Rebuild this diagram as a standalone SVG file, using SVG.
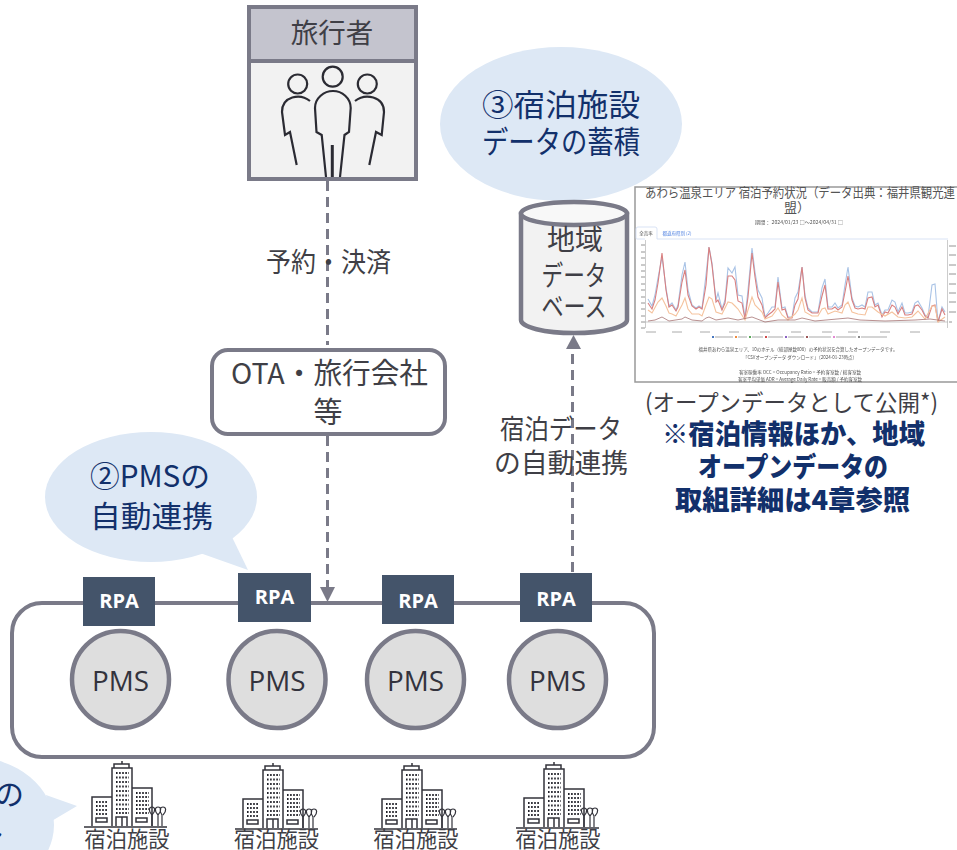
<svg xmlns="http://www.w3.org/2000/svg" width="957" height="850" viewBox="0 0 957 850">
<style>
text{font-family:"Noto Sans CJK JP","Open Sans",sans-serif;fill:#3f3f46;text-anchor:middle}
.t{font-size:29px}
.blue{fill:#12306b}
.bub{fill:#dde8f5}
.pms{fill:#dedede;stroke:#7a7a88;stroke-width:4.5}
.pt{font-family:"Open Sans",sans-serif;font-size:28px;fill:#33333d}
.rpa{fill:#44546a}
.rt{fill:#fff;font-family:"Open Sans",sans-serif;font-weight:700;font-size:20px}
.icon{fill:none;stroke:#33333b;stroke-width:1.5}
.win{fill:none;stroke:#22222a;stroke-width:2;stroke-dasharray:1.6 1.5}
.p{fill:none;stroke:#2b2b33;stroke-width:2.2}
.c{fill:none;stroke:#7a7a88;stroke-width:3;stroke-dasharray:10 6}
.navy{fill:#12306b;font-weight:900}
.s{fill:#555}
.h{font-size:22px}
</style>
<defs>
<filter id="soft" x="-2%" y="-2%" width="104%" height="104%"><feGaussianBlur stdDeviation="0.3"/></filter>
<g id="hotel">
<g class="icon">
<path d="M-38 59H45M-30 58V29H-10M-10 58V0H10V58M10 20H30V58M-8 0V-4H7V0M0-4V-7M-6 58V49H5V58M0 49V58M-26 54H-15V50H-26ZM14 54H25V50H14Z"/>
<path d="M30 58V47C26 43 27 39 30 39S34 43 30 47M36 58V47C32 43 33 39 36 39S40 43 36 47M40 58V47C37 43 38 39 41 39S45 43 41 47" stroke-width="1.2"/>
</g>
<path class="win" d="M-6 5H7M-6 9.500H7M-6 14H7M-6 18.500H7M-6 23H7M-6 27.500H7M-6 32H7M-6 36.500H7M-6 41H7M-6 45H7M-26 34H-14M-26 38H-14M-26 42H-14M-26 46H-14M14 25H27M14 29H27M14 33H27M14 37H27M14 41H27M14 45H27"/>
</g>
<g id="pmsnode"><circle r="48.500" class="pms"/><text y="11" class="pt" textLength="57" lengthAdjust="spacingAndGlyphs">PMS</text></g>
</defs>
<g id="connectors">
<path class="c" d="M327.500 181V345M327.500 436V588"/>
<path d="M320 587H335L327.500 602Z" fill="#7a7a88"/>
<path class="c" d="M572.500 572V349"/>
<path d="M566 349H581L573.500 335Z" fill="#7a7a88"/>
</g>
<g id="bubble-accumulate"><ellipse class="bub" cx="561" cy="124" rx="121" ry="77"/><path class="bub" d="M532 190L572 206L596 190Z"/><text class="blue" style="font-size:31px" x="561" y="116" textLength="158" lengthAdjust="spacingAndGlyphs">③宿泊施設</text><text class="blue" style="font-size:31px" x="561" y="153" textLength="158" lengthAdjust="spacingAndGlyphs">データの蓄積</text></g>
<g id="traveler">
<rect x="249" y="7" width="167" height="172" fill="#f2f2f2" stroke="#7a7a88" stroke-width="4"/>
<rect x="249" y="7" width="167" height="54" fill="#c4c4ce" stroke="#7a7a88" stroke-width="4"/>
<text x="332" y="43" style="font-size:27.500px">旅行者</text>
<g class="p"><circle cx="332.700" cy="76.700" r="10"/><circle cx="297.700" cy="84" r="9.500"/><circle cx="367.300" cy="84" r="9.500"/>
<path d="M326 177L321.700 135L316.500 132L315 108C315 98 324 91 333 91S350.700 98 350.700 108L349 132L344.500 135L340 177"/>
<path d="M332.300 145V177" stroke-width="3"/>
<path d="M310 101C300 93 282 96 282 112L285 135L290 132L296.700 165"/>
<path d="M355 101C365 93 384 96 384 112L381.700 135L376 132L369.300 165"/></g>
</g>
<g id="db">
<path d="M521 214V320A53 13 0 0 0 627 320V214Z" fill="#f2f2f2" stroke="#7a7a88" stroke-width="4.500"/>
<ellipse cx="574" cy="213.500" rx="53" ry="11.500" fill="#f8f8f8" stroke="#7a7a88" stroke-width="4.500"/>
<text x="575" y="250" style="font-size:28px" textLength="56" lengthAdjust="spacingAndGlyphs">地域</text><text x="574" y="286" style="font-size:28px" textLength="65" lengthAdjust="spacingAndGlyphs">データ</text><text x="574" y="317" style="font-size:28px" textLength="65" lengthAdjust="spacingAndGlyphs">ベース</text>
</g>
<g id="chart">
<rect x="635" y="187" width="330" height="195" fill="#fff" stroke="#999" stroke-width="1.500"/>
<text x="800" y="197" style="font-size:13px;fill:#555" textLength="310" lengthAdjust="spacingAndGlyphs">あわら温泉エリア 宿泊予約状況（データ出典：福井県観光連</text>
<text x="797" y="212" style="font-size:13px;fill:#555">盟）</text>
<g filter="url(#soft)">
<text x="799" y="224" class="s" style="font-size:5px" textLength="88" lengthAdjust="spacingAndGlyphs">期間： 2024/01/23 □～2024/04/31 □</text>
<path d="M645 239H637Q636 239 636 238V229Q636 227 638 227H655Q657 227 657 229V239H948" fill="none" stroke="#cfdcf2" stroke-width=".8"/>
<text x="646" y="234.500" class="s" style="font-size:4.500px">全売率</text><text x="677" y="234.500" style="font-size:4.500px;fill:#4a7de0">都道府県別 (2)</text>
<path d="M645.500 240V328M947.500 240V328M645 322H948" fill="none" stroke="#aaa" stroke-width=".6"/>
<path d="M641 245H645M641 252H645M641 258H645M641 265H645M641 271H645M641 277H645M641 284H645M641 290H645M641 297H645M641 303H645M641 309H645M641 316H645M641 322H645M641 328H645M949 246H956M949 255H956M949 265H956M949 274H956M949 284H956M949 293H956M949 302H956M949 312H956M949 322H952" fill="none" stroke="#888" stroke-width=".9"/>
<path d="M646 332H656M672 332H682M700 332H710M729 332H739M760 332H770M791 332H801M822 332H832M848 332H858M880 332H890M910 332H920" fill="none" stroke="#aaa" stroke-width="1"/>
<g fill="none" stroke-width="1.100">
<path stroke="#a9c3e6" d="M648 299L652 306L655 295L658 278L662 257L666 288L669 306L672 303L676 310L678 305L682 275L685 262L688 290L692 305L696 308L699 306L702 308L706 275L709 247L712 263L716 300L718 293L722 309L725 300L728 268L732 273L735 267L738 295L742 296L745 318L748 290L752 248L755 272L758 290L762 298L765 317L768 313L772 307L775 307L778 277L782 308L785 307L788 317L792 317L795 298L798 292L802 267L805 295L808 308L812 312L815 312L818 312L822 288L825 279L828 307L832 307L835 303L838 308L842 305L845 285L848 267L852 298L855 306L858 307L862 305L865 307L868 292L872 292L875 305L878 303L882 315L885 310L888 310L892 300L895 302L898 312L902 303L905 313L908 313L912 312L915 303L918 301L922 308L925 315L928 317L932 285L935 284L938 322L942 307L945 312"/>
<path stroke="#d98080" d="M648 303L652 309L655 300L658 283L662 253L666 290L669 307L672 305L676 311L678 307L682 282L685 270L688 295L692 306L696 309L699 307L702 309L706 285L709 247L712 265L716 302L718 300L722 310L725 303L728 276L732 276L735 280L738 301L742 303L745 319L748 297L752 253L755 277L758 297L762 305L765 318L768 315L772 312L775 309L778 282L782 310L785 309L788 318L792 318L795 305L798 299L802 267L805 298L808 310L812 313L815 313L818 313L822 296L825 285L828 309L832 309L835 307L838 310L842 307L845 292L848 276L852 300L855 308L858 309L862 308L865 309L868 298L872 297L875 307L878 305L882 317L885 312L888 313L892 305L895 307L898 314L902 307L905 315L908 315L912 314L915 306L918 305L922 310L925 316L928 318L932 306L935 305L938 322L942 309L945 315"/>
<path stroke="#f5c39e" d="M648 310L652 313L658 302L662 298L666 306L669 313L672 314L676 316L682 305L685 298L688 309L692 314L699 314L702 316L706 305L709 297L712 299L716 312L722 314L728 302L732 303L735 306L738 309L745 320L748 310L752 297L755 305L762 312L765 319L772 316L778 308L782 315L788 320L795 314L798 310L802 298L805 312L812 316L818 316L822 309L825 308L828 314L835 311L842 313L845 305L848 302L852 312L858 314L865 315L868 307L872 307L878 312L885 316L892 312L898 317L905 318L912 317L918 311L925 319L932 306L935 306L938 322L945 317"/>
<path stroke="#9b6262" stroke-width=".7" d="M648 321L655 320L662 317L669 321L682 319L685 317L692 320L702 321L706 318L709 317L716 320L728 318L738 320L752 317L765 322L778 320L795 320L802 318L815 321L848 318L860 320L885 321L915 320L930 319L945 321"/>
</g>
<g>
<rect x="712" y="336" width="2" height="2" fill="#4a78c0"/><rect x="735" y="336" width="2" height="2" fill="#ef8b3c"/><rect x="749" y="336" width="2" height="2" fill="#5aa95a"/><rect x="765" y="336" width="2" height="2" fill="#d04a4a"/><rect x="785" y="336" width="2" height="2" fill="#8a62c4"/><rect x="806" y="336" width="2" height="2" fill="#9c5454"/><rect x="833" y="336" width="2" height="2" fill="#e38ad4"/><rect x="858" y="336" width="2" height="2" fill="#888"/>
<path d="M715 337H733M738 337H747M752 337H763M768 337H783M788 337H804M809 337H831M836 337H856M861 337H887" stroke="#aaa" stroke-width="1.200"/>
</g>
<text x="798" y="351" class="s" style="font-size:5px" textLength="199" lengthAdjust="spacingAndGlyphs">福井県あわら温泉エリア、10のホテル（総部屋数808）の予約状況を合算したオープンデータです。</text>
<text x="800" y="359" class="s" style="font-size:5px" textLength="114" lengthAdjust="spacingAndGlyphs">「CSVオープンデータ ダウンロード」（2024-01-23時点）</text>
<text x="800" y="374" class="s" style="font-size:5px" textLength="122" lengthAdjust="spacingAndGlyphs">客室稼働率 OCC = Occupancy Ratio = 予約客室数 / 総客室数</text>
<text x="800" y="381" class="s" style="font-size:5px" textLength="124" lengthAdjust="spacingAndGlyphs">客室平均単価 ADR = Average Daily Rate = 販売額 / 予約客室数</text>
</g>
</g>
<g id="chart-caption">
<text x="791.500" y="411" style="font-size:23px" textLength="293" lengthAdjust="spacingAndGlyphs">(オープンデータとして公開*)</text>
<text class="navy" x="793.500" y="444" style="font-size:27px" textLength="263" lengthAdjust="spacingAndGlyphs">※宿泊情報ほか、地域</text>
<text class="navy" x="793" y="477" style="font-size:27px" textLength="190" lengthAdjust="spacingAndGlyphs">オープンデータの</text>
<text class="navy" x="792.500" y="510" style="font-size:27px" textLength="235" lengthAdjust="spacingAndGlyphs">取組詳細は4章参照</text>
</g>
<g id="label-booking"><text x="328.500" y="272" style="font-size:27px" textLength="125" lengthAdjust="spacingAndGlyphs">予約・決済</text></g>
<g id="label-data"><text x="561" y="439" style="font-size:27px" textLength="122" lengthAdjust="spacingAndGlyphs">宿泊データ</text><text x="561" y="473" style="font-size:27px" textLength="134" lengthAdjust="spacingAndGlyphs">の自動連携</text></g>
<g id="ota"><rect x="212" y="350" width="233" height="84" rx="16" fill="#fff" stroke="#7a7a88" stroke-width="4"/><text class="t" x="329.500" y="384" textLength="197" lengthAdjust="spacingAndGlyphs">OTA・旅行会社</text><text class="t" x="328" y="423">等</text></g>
<g id="bubble-pms"><ellipse class="bub" cx="151" cy="497" rx="106" ry="65"/><path class="bub" d="M200 553L248 570L232 537Z"/><text class="blue" style="font-size:30px" x="150" y="487" textLength="120" lengthAdjust="spacingAndGlyphs">②PMSの</text><text class="blue" style="font-size:30px" x="151.500" y="527" textLength="123" lengthAdjust="spacingAndGlyphs">自動連携</text></g>
<g id="pms-group"><rect x="12" y="603" width="642" height="154" rx="30" fill="#fff" stroke="#7a7a88" stroke-width="4"/></g>
<g id="rpa1"><rect class="rpa" x="83" y="577" width="72" height="49"/><text class="rt" x="119" y="608">RPA</text></g>
<g id="rpa2"><rect class="rpa" x="238" y="573" width="73" height="49"/><text class="rt" x="274.500" y="604">RPA</text></g>
<g id="rpa3"><rect class="rpa" x="382" y="575" width="72" height="49"/><text class="rt" x="418" y="608">RPA</text></g>
<g id="rpa4"><rect class="rpa" x="520" y="573" width="72" height="49"/><text class="rt" x="556" y="606">RPA</text></g>
<use id="pms1" href="#pmsnode" x="120.500" y="679.500"/>
<use id="pms2" href="#pmsnode" x="277" y="679.500"/>
<use id="pms3" href="#pmsnode" x="415.500" y="679.500"/>
<use id="pms4" href="#pmsnode" x="557.500" y="679.500"/>
<g id="bubble-left"><ellipse class="bub" cx="-28" cy="825" rx="82" ry="68"/><path class="bub" d="M46 795L77 806L50 822Z"/><text class="blue" style="font-size:30px;text-anchor:end" x="24" y="805">の</text><text class="blue" style="font-size:30px;text-anchor:end" x="6" y="844">ト</text></g>
<g id="hotel1"><use href="#hotel" x="122" y="768"/><text x="127" y="847" style="font-size:22px" textLength="85" lengthAdjust="spacingAndGlyphs">宿泊施設</text></g>
<g id="hotel2"><use href="#hotel" x="273" y="770"/><text x="276.500" y="847" style="font-size:22px" textLength="85" lengthAdjust="spacingAndGlyphs">宿泊施設</text></g>
<g id="hotel3"><use href="#hotel" x="412" y="770"/><text x="416" y="847" style="font-size:22px" textLength="85" lengthAdjust="spacingAndGlyphs">宿泊施設</text></g>
<g id="hotel4"><use href="#hotel" x="554" y="769"/><text x="558" y="847" style="font-size:22px" textLength="85" lengthAdjust="spacingAndGlyphs">宿泊施設</text></g>
</svg>
